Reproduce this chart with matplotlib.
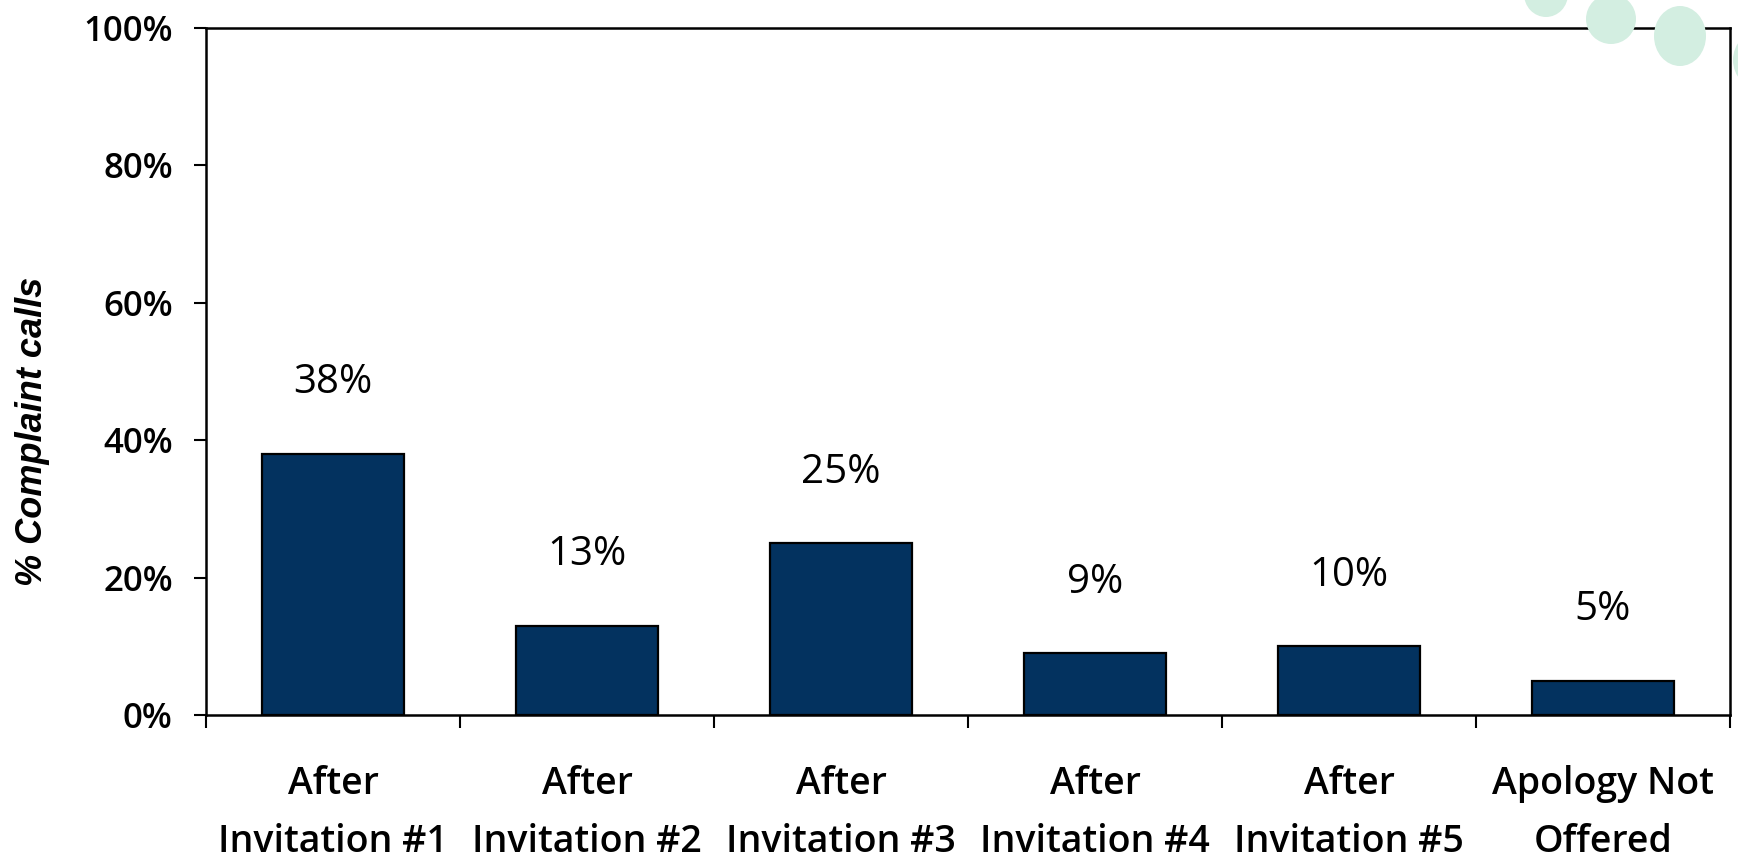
import numpy as np
import matplotlib.pyplot as plt
from matplotlib.patches import Ellipse

# complaint calls by when the apology came
categories = ["After\nInvitation #1", "After\nInvitation #2", "After\nInvitation #3",
              "After\nInvitation #4", "After\nInvitation #5", "Apology Not\nOffered"]
pct_calls = [38, 13, 25, 9, 10, 5]
y_ticks = [0, 20, 40, 60, 80, 100]

plt.rcParams["font.family"] = ["Open Sans", "DejaVu Sans"]

W, H = 1738, 858
fig = plt.figure(figsize=(W / 100, H / 100), dpi=100)
fig.patch.set_facecolor("white")

# soft green dots in the top right corner
dots = [(1546, -6, 44, 46), (1611, 19, 50, 50), (1680, 36, 52, 60), (1762, 60, 58, 60)]
for cx, cy, w, h in dots:
    fig.patches.append(Ellipse((cx / W, 1 - cy / H), w / W, h / H,
                               transform=fig.transFigure, facecolor="#d3eee1",
                               edgecolor="none", zorder=0))

ax = fig.add_axes([206 / W, 1 - 715 / H, (1730 - 206) / W, (715 - 28) / H])
ax.set_facecolor("none")

x = np.arange(len(categories))
ax.bar(x, pct_calls, width=0.56, color="#03325f", edgecolor="black", linewidth=1.6, zorder=2)

for xi, v in zip(x, pct_calls):
    ax.text(xi, v + 10.3, f"{v}%", ha="center", va="center", fontsize=29)

ax.set_xlim(-0.5, len(categories) - 0.5)
ax.set_ylim(0, 100)
ax.set_yticks(y_ticks)
ax.set_yticklabels([f"{t}%" for t in y_ticks], fontsize=25, fontweight="semibold")
ax.set_xticks(x)
ax.set_xticklabels(categories, fontsize=27, fontweight="semibold", linespacing=1.7)
ax.set_xticks(np.arange(-0.5, len(categories)), minor=True)

ax.tick_params(axis="x", which="major", length=0, pad=36)
ax.tick_params(axis="x", which="minor", length=9, width=1.5, direction="out")
ax.tick_params(axis="y", length=9, width=1.5, direction="out", pad=15)

for s in ax.spines.values():
    s.set_linewidth(1.8)
    s.set_color("black")

fig.text(33 / W, 1 - 431 / H, "% Complaint calls", rotation=90, ha="center", va="center",
         fontsize=26, fontweight="bold", fontstyle="italic", family="Liberation Sans")

fig.savefig("out.png", dpi=100)
